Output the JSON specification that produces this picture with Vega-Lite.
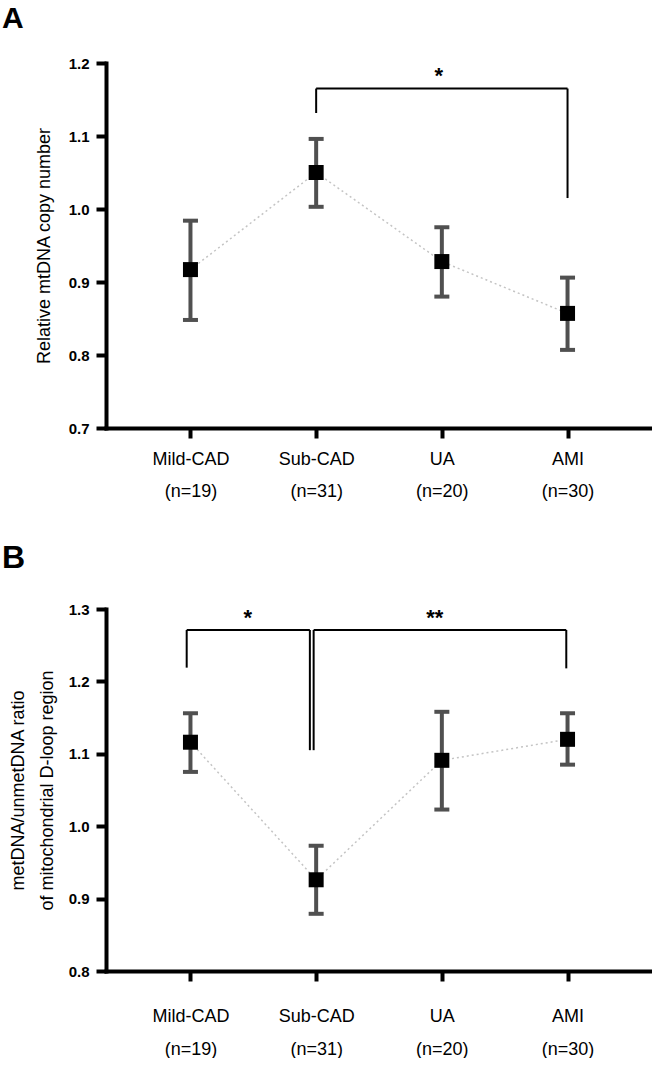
{
  "$schema": "https://vega.github.io/schema/vega-lite/v6.json",
  "padding": {"left": 2, "top": 4, "right": 0, "bottom": 0},
  "background": "white",
  "config": {
    "view": {"stroke": null},
    "font": "Liberation Sans",
    "axis": {
      "grid": false,
      "domainColor": "black",
      "domainWidth": 4,
      "domainCap": "square",
      "tickColor": "black",
      "tickWidth": 4,
      "tickSize": 10,
      "labelColor": "black",
      "labelFont": "Liberation Sans",
      "titleFont": "Liberation Sans",
      "titleColor": "black",
      "titleFontWeight": "normal"
    },
    "title": {"font": "Liberation Sans", "fontWeight": "bold", "color": "black", "anchor": "start", "frame": "group"}
  },
  "datasets": {
    "a": [
      {"pos": 1, "group": "Mild-CAD", "mean": 0.917, "lo": 0.848, "hi": 0.984},
      {"pos": 2, "group": "Sub-CAD", "mean": 1.050, "lo": 1.003, "hi": 1.096},
      {"pos": 3, "group": "UA", "mean": 0.928, "lo": 0.880, "hi": 0.975},
      {"pos": 4, "group": "AMI", "mean": 0.857, "lo": 0.807, "hi": 0.906}
    ],
    "b": [
      {"pos": 1, "group": "Mild-CAD", "mean": 1.116, "lo": 1.075, "hi": 1.156},
      {"pos": 2, "group": "Sub-CAD", "mean": 0.926, "lo": 0.879, "hi": 0.973},
      {"pos": 3, "group": "UA", "mean": 1.091, "lo": 1.023, "hi": 1.158},
      {"pos": 4, "group": "AMI", "mean": 1.120, "lo": 1.085, "hi": 1.156}
    ],
    "bracketA": [
      {"x1": 2, "x2": 4, "y1": 1.165, "y2": 1.165},
      {"x1": 2, "x2": 2, "y1": 1.1315, "y2": 1.165},
      {"x1": 4, "x2": 4, "y1": 1.015, "y2": 1.165}
    ],
    "bracketB": [
      {"x1": 0.97, "x2": 1.95, "y1": 1.271, "y2": 1.271},
      {"x1": 0.97, "x2": 0.97, "y1": 1.219, "y2": 1.271},
      {"x1": 1.95, "x2": 1.95, "y1": 1.105, "y2": 1.271},
      {"x1": 1.98, "x2": 3.99, "y1": 1.271, "y2": 1.271},
      {"x1": 1.98, "x2": 1.98, "y1": 1.105, "y2": 1.271},
      {"x1": 3.99, "x2": 3.99, "y1": 1.218, "y2": 1.271}
    ],
    "starA": [{"x": 2.975, "y": 1.173, "label": "*"}],
    "starB": [
      {"x": 1.457, "y": 1.278, "label": "*"},
      {"x": 2.944, "y": 1.278, "label": "**"}
    ]
  },
  "vconcat": [
    {
      "title": {"text": "A", "fontSize": 30, "dx": -104, "offset": 22},
      "width": 546,
      "height": 365,
      "encoding": {
        "x": {
          "field": "pos", "type": "quantitative",
          "scale": {"domain": [0.328, 4.672], "nice": false, "zero": false},
          "axis": {
            "values": [1, 2, 3, 4],
            "title": null,
            "labelFontSize": 18,
            "labelLineHeight": 32,
            "labelPadding": 12,
            "labelBaseline": "top",
            "labelExpr": "datum.value == 1 ? ['Mild-CAD', '(n=19)'] : datum.value == 2 ? ['Sub-CAD', '(n=31)'] : datum.value == 3 ? ['UA', '(n=20)'] : ['AMI', '(n=30)']"
          }
        }
      },
      "layer": [
        {
          "data": {"name": "a"},
          "mark": {"type": "line", "color": "#c4c4c4", "strokeWidth": 1.5, "strokeDash": [2, 3]},
          "encoding": {
            "y": {
              "field": "mean", "type": "quantitative",
              "scale": {"domain": [0.7, 1.2], "nice": false, "zero": false},
              "axis": {
                "values": [0.7, 0.8, 0.9, 1.0, 1.1, 1.2],
                "format": ".1f",
                "labelFontSize": 15,
                "labelFontWeight": "bold",
                "labelPadding": 7,
                "title": "Relative mtDNA copy number",
                "titleFontSize": 18,
                "titlePadding": 15
              }
            }
          }
        },
        {
          "data": {"name": "a"},
          "mark": {"type": "rule", "color": "#505050", "strokeWidth": 4},
          "encoding": {"y": {"field": "lo", "type": "quantitative"}, "y2": {"field": "hi"}}
        },
        {
          "data": {"name": "a"},
          "mark": {"type": "tick", "orient": "horizontal", "color": "#505050", "size": 15, "thickness": 4, "opacity": 1},
          "encoding": {"y": {"field": "lo", "type": "quantitative"}}
        },
        {
          "data": {"name": "a"},
          "mark": {"type": "tick", "orient": "horizontal", "color": "#505050", "size": 15, "thickness": 4, "opacity": 1},
          "encoding": {"y": {"field": "hi", "type": "quantitative"}}
        },
        {
          "data": {"name": "a"},
          "mark": {"type": "point", "shape": "square", "filled": true, "color": "black", "size": 225, "opacity": 1},
          "encoding": {"y": {"field": "mean", "type": "quantitative"}}
        },
        {
          "data": {"name": "bracketA"},
          "mark": {"type": "rule", "color": "black", "strokeWidth": 2},
          "encoding": {
            "x": {"field": "x1", "type": "quantitative"},
            "x2": {"field": "x2"},
            "y": {"field": "y1", "type": "quantitative"},
            "y2": {"field": "y2"}
          }
        },
        {
          "data": {"name": "starA"},
          "mark": {"type": "text", "fontSize": 22, "fontWeight": "bold", "color": "black", "baseline": "alphabetic", "align": "center"},
          "encoding": {
            "x": {"field": "x", "type": "quantitative"},
            "y": {"field": "y", "type": "quantitative"},
            "text": {"field": "label"}
          }
        }
      ]
    },
    {
      "title": {"text": "B", "fontSize": 32, "dx": -104, "offset": 27},
      "width": 546,
      "height": 362,
      "encoding": {
        "x": {
          "field": "pos", "type": "quantitative",
          "scale": {"domain": [0.328, 4.672], "nice": false, "zero": false},
          "axis": {
            "values": [1, 2, 3, 4],
            "title": null,
            "labelFontSize": 18,
            "labelLineHeight": 33,
            "labelPadding": 26,
            "labelBaseline": "top",
            "labelExpr": "datum.value == 1 ? ['Mild-CAD', '(n=19)'] : datum.value == 2 ? ['Sub-CAD', '(n=31)'] : datum.value == 3 ? ['UA', '(n=20)'] : ['AMI', '(n=30)']"
          }
        }
      },
      "layer": [
        {
          "data": {"name": "b"},
          "mark": {"type": "line", "color": "#c4c4c4", "strokeWidth": 1.5, "strokeDash": [2, 3]},
          "encoding": {
            "y": {
              "field": "mean", "type": "quantitative",
              "scale": {"domain": [0.8, 1.3], "nice": false, "zero": false},
              "axis": {
                "values": [0.8, 0.9, 1.0, 1.1, 1.2, 1.3],
                "format": ".1f",
                "labelFontSize": 15,
                "labelFontWeight": "bold",
                "labelPadding": 7,
                "title": ["metDNA/unmetDNA ratio", "of mitochondrial D-loop region"],
                "titleFontSize": 18,
                "titleLineHeight": 29,
                "titlePadding": 12
              }
            }
          }
        },
        {
          "data": {"name": "b"},
          "mark": {"type": "rule", "color": "#505050", "strokeWidth": 4},
          "encoding": {"y": {"field": "lo", "type": "quantitative"}, "y2": {"field": "hi"}}
        },
        {
          "data": {"name": "b"},
          "mark": {"type": "tick", "orient": "horizontal", "color": "#505050", "size": 15, "thickness": 4, "opacity": 1},
          "encoding": {"y": {"field": "lo", "type": "quantitative"}}
        },
        {
          "data": {"name": "b"},
          "mark": {"type": "tick", "orient": "horizontal", "color": "#505050", "size": 15, "thickness": 4, "opacity": 1},
          "encoding": {"y": {"field": "hi", "type": "quantitative"}}
        },
        {
          "data": {"name": "b"},
          "mark": {"type": "point", "shape": "square", "filled": true, "color": "black", "size": 225, "opacity": 1},
          "encoding": {"y": {"field": "mean", "type": "quantitative"}}
        },
        {
          "data": {"name": "bracketB"},
          "mark": {"type": "rule", "color": "black", "strokeWidth": 2},
          "encoding": {
            "x": {"field": "x1", "type": "quantitative"},
            "x2": {"field": "x2"},
            "y": {"field": "y1", "type": "quantitative"},
            "y2": {"field": "y2"}
          }
        },
        {
          "data": {"name": "starB"},
          "mark": {"type": "text", "fontSize": 22, "fontWeight": "bold", "color": "black", "baseline": "alphabetic", "align": "center"},
          "encoding": {
            "x": {"field": "x", "type": "quantitative"},
            "y": {"field": "y", "type": "quantitative"},
            "text": {"field": "label"}
          }
        }
      ]
    }
  ],
  "spacing": 42
}
